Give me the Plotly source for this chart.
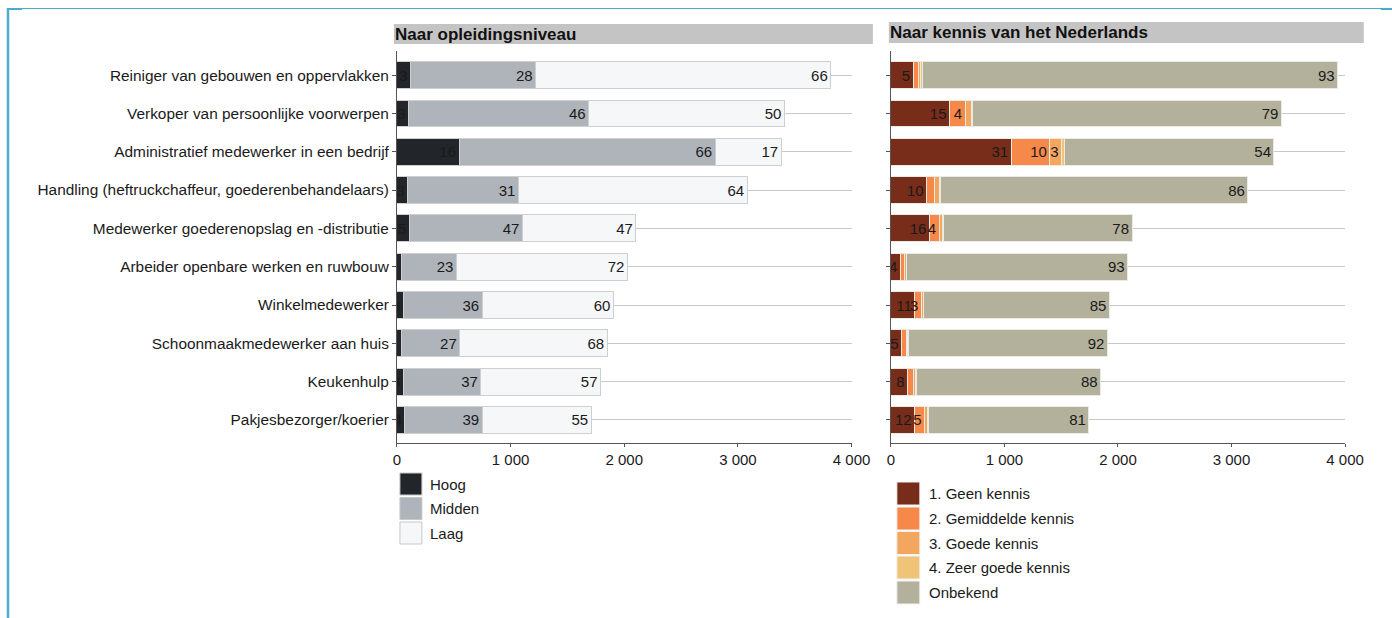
import plotly.graph_objects as go

W, H = 1414, 618
# Horizontal screen mapping of the canvas (pixels on screen = SX_OFF + SX * canvas px)
SX, SX_OFF = 0.9839, 3.0

# Occupations (top to bottom) and number of workers per occupation
categories = [
    "Reiniger van gebouwen en oppervlakken",
    "Verkoper van persoonlijke voorwerpen",
    "Administratief medewerker in een bedrijf",
    "Handling (heftruckchaffeur, goederenbehandelaars)",
    "Medewerker goederenopslag en -distributie",
    "Arbeider openbare werken en ruwbouw",
    "Winkelmedewerker",
    "Schoonmaakmedewerker aan huis",
    "Keukenhulp",
    "Pakjesbezorger/koerier",
]
totals = [3935, 3443, 3415, 3144, 2124, 2090, 1924, 1907, 1847, 1744]

# Share (%) by level of education
opl_names = ["Hoog", "Midden", "Laag"]
opl_hoog = [3, 3, 16, 3, 5, 2, 3, 2, 3, 4]
opl_midden = [28, 46, 66, 31, 47, 23, 36, 27, 37, 39]
opl_laag = [66, 50, 17, 64, 47, 72, 60, 68, 57, 55]

# Share (%) by knowledge of Dutch
kennis_names = ["1. Geen kennis", "2. Gemiddelde kennis", "3. Goede kennis",
                "4. Zeer goede kennis", "Onbekend"]
kennis_geen = [5, 15, 31, 10, 16, 4, 11, 5, 8, 12]
kennis_gemiddeld = [1.2, 4, 10, 2.1, 4, 1.6, 3, 2.4, 2.7, 5]
kennis_goed = [0.5, 1.5, 3, 1.4, 1.5, 0.8, 0.8, 0.5, 1.1, 1.7]
kennis_zeer_goed = [0.3, 0.4, 0.8, 0.5, 0.5, 0.4, 0.2, 0.1, 0.2, 0.3]
kennis_onbekend = [93, 79, 54, 86, 78, 93, 85, 92, 88, 81]

x_ticks = [0, 1000, 2000, 3000, 4000]

opl_colors = ["#222529", "#aeb4ba", "#f6f7f9"]
kennis_colors = ["#772d19", "#f6884a", "#f2a65e", "#efc477", "#b3b19c"]

FONT = "Liberation Sans, Arial, sans-serif"
TXT = "#1a1a1a"


def px_x(p):
    return ((p - SX_OFF) / SX) / W


def px_y(p):
    return 1 - p / H


def counts(pcts):
    return [t * p / 100 for t, p in zip(totals, pcts)]


def labels(pcts):
    return [f"{p:g}" if p >= 3 else "" for p in pcts]


fig = go.Figure()

for name, vals, col in zip(opl_names, [opl_hoog, opl_midden, opl_laag], opl_colors):
    fig.add_trace(go.Bar(
        name=name, y=categories, x=counts(vals), orientation="h",
        xaxis="x", yaxis="y", width=0.7,
        marker=dict(color=col, line=dict(color="#cfcfcf", width=1)),
        text=labels(vals), textposition="inside", insidetextanchor="end",
        textangle=0, constraintext="none", cliponaxis=True,
        insidetextfont=dict(family=FONT, size=15, color=TXT),
        hoverinfo="name+x", showlegend=False,
    ))

for name, vals, col in zip(kennis_names,
                           [kennis_geen, kennis_gemiddeld, kennis_goed,
                            kennis_zeer_goed, kennis_onbekend],
                           kennis_colors):
    fig.add_trace(go.Bar(
        name=name, y=categories, x=counts(vals), orientation="h",
        xaxis="x2", yaxis="y2", width=0.7,
        marker=dict(color=col, line=dict(color="#ebebe6", width=1)),
        text=labels(vals), textposition="inside", insidetextanchor="end",
        textangle=0, constraintext="none", cliponaxis=True,
        insidetextfont=dict(family=FONT, size=15, color=TXT),
        hoverinfo="name+x", showlegend=False,
    ))

y_dom = [px_y(443.3), px_y(51)]
y_range = [9.61, -0.63]

xaxis_common = dict(
    range=[0, 4000], tickvals=x_ticks, tickformat=",d",
    showline=True, linecolor="#555555", linewidth=1,
    ticks="outside", ticklen=3, tickcolor="#555555",
    showgrid=False, zeroline=False, fixedrange=True,
    tickfont=dict(family=FONT, size=15, color=TXT),
)
yaxis_common = dict(
    type="category", categoryorder="array", categoryarray=categories,
    range=y_range, domain=y_dom,
    showline=True, linecolor="#555555", linewidth=1,
    ticks="outside", ticklen=4, tickcolor="#555555",
    showgrid=True, gridcolor="#c9c9c9", gridwidth=1, fixedrange=True,
)

shapes = []
annotations = []

# Frame around the figure
frame_col = "#4aabca"
shapes.append(dict(type="line", xref="paper", yref="paper",
                   x0=px_x(7), x1=px_x(7), y0=px_y(8), y1=px_y(618),
                   line=dict(color=frame_col, width=2.5)))
shapes.append(dict(type="line", xref="paper", yref="paper",
                   x0=px_x(6), x1=px_x(1392), y0=px_y(8.5), y1=px_y(8.5),
                   line=dict(color=frame_col, width=1)))
for xa, xb in [(6, 21), (1380, 1392)]:
    shapes.append(dict(type="line", xref="paper", yref="paper",
                       x0=px_x(xa), x1=px_x(xb), y0=px_y(9), y1=px_y(9),
                       line=dict(color=frame_col, width=2)))

# Panel headers
for (x0, x1, y0, y1), title in [((393, 872, 24, 44), "Naar opleidingsniveau"),
                                ((888, 1363, 22, 43), "Naar kennis van het Nederlands")]:
    shapes.append(dict(type="rect", xref="paper", yref="paper",
                       x0=px_x(x0), x1=px_x(x1), y0=px_y(y1), y1=px_y(y0),
                       fillcolor="#c4c4c4", line=dict(width=0), layer="below"))
    annotations.append(dict(xref="paper", yref="paper", x=px_x(x0 - 1),
                            y=px_y((y0 + y1) / 2), xanchor="left", yanchor="middle",
                            text=f"<b>{title}</b>", showarrow=False,
                            font=dict(family=FONT, size=17, color="#111111")))

# Legends drawn as swatches with labels
def add_legend(names, colors, x_sw, sw, y_tops, x_txt, border):
    for name, col, yt in zip(names, colors, y_tops):
        shapes.append(dict(type="rect", xref="paper", yref="paper",
                           x0=px_x(x_sw), x1=px_x(x_sw + sw),
                           y0=px_y(yt + sw), y1=px_y(yt),
                           fillcolor=col, line=dict(color=border, width=1)))
        annotations.append(dict(xref="paper", yref="paper", x=px_x(x_txt),
                                y=px_y(yt + sw / 2), xanchor="left", yanchor="middle",
                                text=name, showarrow=False,
                                font=dict(family=FONT, size=15, color=TXT)))


add_legend(opl_names, opl_colors, 399, 22, [473, 497.5, 522], 427.5, "#c8c8c8")
add_legend(kennis_names, kennis_colors, 896, 23, [482, 507, 531.5, 556, 581], 926.5, "#f2f2f2")

fig.update_layout(
    width=W, height=H, autosize=False,
    margin=dict(l=0, r=0, t=0, b=0),
    paper_bgcolor="white", plot_bgcolor="white",
    barmode="stack", separators=", ",
    font=dict(family=FONT, size=15, color=TXT),
    xaxis=dict(domain=[px_x(396), px_x(850.7)], anchor="y", **xaxis_common),
    xaxis2=dict(domain=[px_x(890), px_x(1344.3)], anchor="y2", **xaxis_common),
    yaxis=dict(anchor="x", showticklabels=True,
               tickfont=dict(family=FONT, size=15.4, color=TXT), **yaxis_common),
    yaxis2=dict(anchor="x2", showticklabels=False, **yaxis_common),
    shapes=shapes, annotations=annotations,
    showlegend=False,
)

fig.write_html("out.html", config={"responsive": False, "displayModeBar": False})
